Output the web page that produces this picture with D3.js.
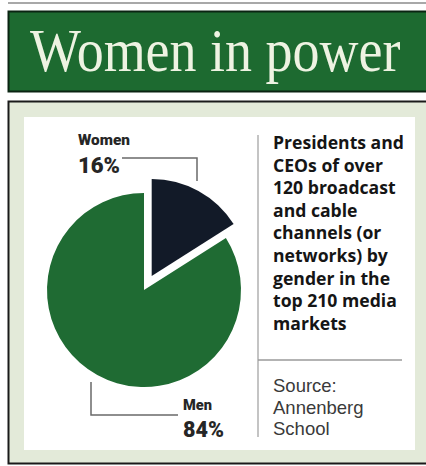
<!DOCTYPE html>
<html>
<head>
<meta charset="utf-8">
<script src="https://cdn.jsdelivr.net/npm/d3@7"></script>
<style>
  body { margin: 0; background: #fff; }
  svg { display: block; }
</style>
</head>
<body>
<svg id="chart" width="426" height="466"></svg>
<script>
(function(){

	// data
	const categories = ["Women", "Men"];
	const shares = [16, 84];
	const shareLabels = ["16%", "84%"];
	const sliceColors = ["#121a28", "#1f6b33"];

	const titleText = "Women in power";
	const noteLines = ["Presidents and", "CEOs of over", "120 broadcast", "and cable",
		"channels (or", "networks) by", "gender in the", "top 210 media", "markets"];
	const sourceLines = ["Source:", "Annenberg", "School"];

	const svg = d3.select("#chart");

	// thin rule at the very top
	svg.append("line")
		.attr("x1", 8).attr("x2", 426).attr("y1", 3).attr("y2", 3)
		.attr("stroke", "#a8a8a8").attr("stroke-width", 2);

	// title bar
	svg.append("rect")
		.attr("x", 8.5).attr("y", 11.5).attr("width", 430).attr("height", 80)
		.attr("fill", "#1d6a30").attr("stroke", "#0b2412").attr("stroke-width", 2);
	// title a bit taller than the plain serif, stretched vertically only
	svg.append("text")
		.attr("transform", "translate(30,71) scale(1,1.14)")
		.attr("font-family", "'Liberation Serif', 'DejaVu Serif', serif")
		.attr("font-size", 54)
		.attr("fill", "#eef3e2")
		.text(titleText);

	// panel with light frame and white inner area
	svg.append("rect")
		.attr("x", 8.5).attr("y", 101.5).attr("width", 430).attr("height", 362)
		.attr("fill", "#e3ead9").attr("stroke", "#1a1a1a").attr("stroke-width", 2);
	svg.append("rect")
		.attr("x", 24).attr("y", 117).attr("width", 391).attr("height", 333)
		.attr("fill", "#ffffff");

	// pie
	const cx = 144, cy = 290, radius = 97;
	const explode = 16;
	const pie = d3.pie().sort(null)(shares);
	const arc = d3.arc().innerRadius(0).outerRadius(radius);

	const g = svg.append("g").attr("transform", "translate(" + cx + "," + cy + ")");
	g.selectAll("path")
		.data(pie)
		.enter().append("path")
		.attr("d", arc)
		.attr("fill", function(d, i) { return sliceColors[i]; })
		.attr("transform", function(d, i) {
			if (i != 0) return null;
			// pull the women slice out along its middle angle
			const mid = (d.startAngle + d.endAngle) / 2;
			return "translate(" + (Math.sin(mid) * explode) + "," + (-Math.cos(mid) * explode) + ")";
		});

	// leader lines
	const leader = svg.append("g").attr("fill", "none").attr("stroke", "#6a6a6a").attr("stroke-width", 1.5);
	leader.append("polyline").attr("points", "122,158 197,158 197,181");
	leader.append("polyline").attr("points", "91,382 91,415 178,415");

	// slice labels
	const labelFont = "'Liberation Sans Narrow', 'Roboto', 'Liberation Sans', sans-serif";
	const labelPos = [[78, 145, 173, 52, 42], [183, 410, 437, 29, 41]];
	categories.forEach(function(c, i) {
		const p = labelPos[i];
		svg.append("text")
			.attr("x", p[0]).attr("y", p[1])
			.attr("font-family", labelFont).attr("font-weight", 900).attr("font-size", 14)
			.attr("textLength", p[3]).attr("lengthAdjust", "spacingAndGlyphs")
			.attr("fill", "#262626").text(c);
		svg.append("text")
			.attr("x", p[0]).attr("y", p[2])
			.attr("font-family", labelFont).attr("font-weight", 900).attr("font-size", 22)
			.attr("textLength", p[4]).attr("lengthAdjust", "spacingAndGlyphs")
			.attr("fill", "#262626").text(shareLabels[i]);
	});

	// divider lines of the side note
	svg.append("line")
		.attr("x1", 258).attr("x2", 258).attr("y1", 135).attr("y2", 437)
		.attr("stroke", "#c4c4c4").attr("stroke-width", 2);
	svg.append("line")
		.attr("x1", 258).attr("x2", 402).attr("y1", 360).attr("y2", 360)
		.attr("stroke", "#9a9a9a").attr("stroke-width", 1.5);

	// side note
	svg.append("g").selectAll("text")
		.data(noteLines)
		.enter().append("text")
		.attr("x", 273)
		.attr("y", function(d, i) { return 149 + i * 22.6; })
		.attr("font-family", "'Open Sans', 'DejaVu Sans', sans-serif")
		.attr("font-weight", 700).attr("font-size", 17.6)
		.attr("fill", "#151515")
		.text(function(d) { return d; });

	svg.append("g").selectAll("text")
		.data(sourceLines)
		.enter().append("text")
		.attr("x", 273)
		.attr("y", function(d, i) { return 392 + i * 21.5; })
		.attr("font-family", "'Liberation Sans', Arial, sans-serif")
		.attr("font-size", 18.5)
		.attr("fill", "#3a3a3a")
		.text(function(d) { return d; });

}());
</script>
</body>
</html>
